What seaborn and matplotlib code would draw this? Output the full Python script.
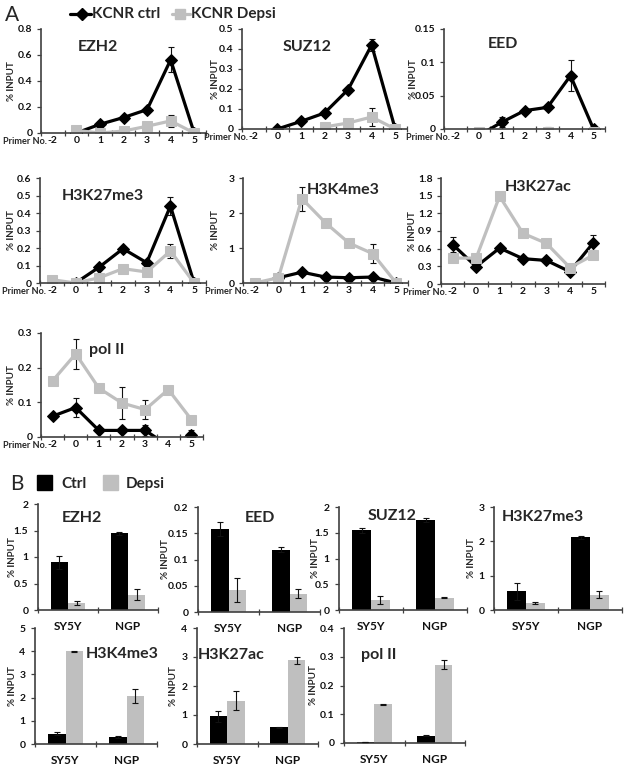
import numpy as np
import pandas as pd
import matplotlib
matplotlib.use('Agg')
import matplotlib.pyplot as plt
from matplotlib.lines import Line2D
from matplotlib.patches import Rectangle
import seaborn as sns

# ---------------- data: panel A (ChIP across primers) ----------------
primers = ['-2', '0', '1', '2', '3', '4', '5']

ezh2_ctrl = [None, 0.0, 0.067, 0.119, 0.18, 0.563, 0.0]
ezh2_ctrl_err = [None, 0.004, 0.01, 0.01, 0.01, 0.097, 0.0]
ezh2_depsi = [None, 0.02, 0.0, 0.015, 0.052, 0.093, 0.0]
ezh2_depsi_err = [None, 0.004, 0.004, 0.005, 0.008, 0.044, 0.0]

suz12_ctrl = [None, 0.0, 0.038, 0.08, 0.197, 0.42, 0.0]
suz12_ctrl_err = [None, 0.0, 0.01, 0.008, 0.01, 0.03, 0.0]
suz12_depsi = [None, None, None, 0.01, 0.03, 0.06, 0.0]
suz12_depsi_err = [None, None, None, 0.004, 0.006, 0.045, 0.0]

eed_ctrl = [None, -0.01, 0.01, 0.0275, 0.0325, 0.08, 0.0]
eed_ctrl_err = [None, 0.0, 0.0075, 0.003, 0.003, 0.023, 0.0]
eed_depsi = [None, -0.004, -0.01, -0.01, -0.004, -0.01, -0.004]
eed_depsi_err = [None, 0.006, 0.0, 0.0, 0.0065, 0.0, 0.006]

h3k27me3_ctrl = [None, 0.0, 0.091, 0.196, 0.116, 0.44, 0.0]
h3k27me3_ctrl_err = [None, 0.0, 0.01, 0.012, 0.01, 0.05, 0.0]
h3k27me3_depsi = [0.019, 0.0, 0.03, 0.082, 0.063, 0.183, 0.0]
h3k27me3_depsi_err = [0.005, 0.0, 0.006, 0.008, 0.008, 0.04, 0.0]

h3k4me3_ctrl = [None, 0.15, 0.31, 0.17, 0.15, 0.17, 0.0]
h3k4me3_ctrl_err = [None, 0.02, 0.06, 0.03, 0.03, 0.03, 0.0]
h3k4me3_depsi = [0.0, 0.15, 2.41, 1.72, 1.14, 0.84, 0.0]
h3k4me3_depsi_err = [0.0, 0.02, 0.34, 0.05, 0.05, 0.27, 0.0]

h3k27ac_ctrl = [0.67, 0.295, 0.61, 0.43, 0.40, 0.21, 0.70]
h3k27ac_ctrl_err = [0.12, 0.03, 0.04, 0.03, 0.03, 0.03, 0.13]
h3k27ac_depsi = [0.44, 0.44, 1.49, 0.86, 0.69, 0.28, 0.49]
h3k27ac_depsi_err = [0.03, 0.03, 0.06, 0.03, 0.03, 0.03, 0.05]

pol2_ctrl = [0.06, 0.085, 0.019, 0.019, 0.019, -0.025, 0.005]
pol2_ctrl_err = [0.004, 0.028, 0.004, 0.004, 0.015, 0.0, 0.016]
pol2_depsi = [0.162, 0.24, 0.141, 0.098, 0.079, 0.137, 0.05]
pol2_depsi_err = [0.004, 0.043, 0.004, 0.046, 0.027, 0.004, 0.004]

# ---------------- data: panel B (bar charts) ----------------
cells = ['SY5Y', 'NGP']
conditions = ['Ctrl', 'Depsi']

b_ezh2_ctrl = [0.90, 1.45]
b_ezh2_ctrl_err = [0.12, 0.03]
b_ezh2_depsi = [0.13, 0.29]
b_ezh2_depsi_err = [0.04, 0.10]

b_eed_ctrl = [0.158, 0.119]
b_eed_ctrl_err = [0.014, 0.004]
b_eed_depsi = [0.042, 0.035]
b_eed_depsi_err = [0.023, 0.009]

b_suz12_ctrl = [1.55, 1.75]
b_suz12_ctrl_err = [0.05, 0.04]
b_suz12_depsi = [0.20, 0.24]
b_suz12_depsi_err = [0.08, 0.01]

b_h3k27me3_ctrl = [0.55, 2.12]
b_h3k27me3_ctrl_err = [0.25, 0.04]
b_h3k27me3_depsi = [0.20, 0.45]
b_h3k27me3_depsi_err = [0.02, 0.10]

b_h3k4me3_ctrl = [0.45, 0.32]
b_h3k4me3_ctrl_err = [0.05, 0.04]
b_h3k4me3_depsi = [4.0, 2.05]
b_h3k4me3_depsi_err = [0.02, 0.30]

b_h3k27ac_ctrl = [0.95, 0.57]
b_h3k27ac_ctrl_err = [0.18, 0.02]
b_h3k27ac_depsi = [1.50, 2.88]
b_h3k27ac_depsi_err = [0.32, 0.12]

b_pol2_ctrl = [0.003, 0.025]
b_pol2_ctrl_err = [0.001, 0.002]
b_pol2_depsi = [0.135, 0.272]
b_pol2_depsi_err = [0.002, 0.015]

# ---------------- style ----------------
sns.set_theme(style='ticks')
plt.rcParams['font.family'] = ['Lato', 'DejaVu Sans']

W, H = 629, 770
BLACK = '#000000'
GRAY = '#BFBFBF'
AXC = '#404040'
TITLE_FS = 11.5

fig = plt.figure(figsize=(W / 100, H / 100), dpi=100)
fig.patch.set_facecolor('white')


def add_ax(l, t, r, b):
    return fig.add_axes([l / W, 1 - b / H, (r - l) / W, (b - t) / H])


def ftext(x, y, s, **kw):
    kw.setdefault('ha', 'center')
    kw.setdefault('va', 'center')
    return fig.text(x / W, 1 - y / H, s, **kw)


def style_axes(ax):
    for side in ['top', 'right']:
        ax.spines[side].set_visible(False)
    for side in ['left', 'bottom']:
        ax.spines[side].set_color(AXC)
        ax.spines[side].set_linewidth(1.2)
    ax.set_facecolor('none')
    ax.set_xlabel('')
    ax.set_ylabel('')


def fmt(v):
    return f'{round(v, 4):g}'


def line_panel(box, ctrl, ctrl_err, depsi, depsi_err, yticks, title, title_xy, ylab_x):
    l, t, r, b = box
    ax = add_ax(l, t, r, b)
    pos = np.arange(len(primers))
    for vals, col, mk, ms in [(ctrl, BLACK, 'D', 6.5), (depsi, GRAY, 's', 7.5)]:
        keep = [i for i, v in enumerate(vals) if v is not None]
        sns.lineplot(x=pos[keep], y=np.array([vals[i] for i in keep], float), ax=ax,
                     color=col, marker=mk, markersize=ms, markeredgecolor=col,
                     linewidth=2.3, estimator=None, sort=False, legend=False)
    for vals, errs in [(ctrl, ctrl_err), (depsi, depsi_err)]:
        keep = [i for i, v in enumerate(vals) if v is not None and errs[i]]
        if keep:
            ax.errorbar(pos[keep], [vals[i] for i in keep], yerr=[errs[i] for i in keep],
                        fmt='none', ecolor='#111111', elinewidth=0.8, capsize=2.3,
                        capthick=0.8, zorder=1.5)
    ax.set_xlim(-0.5, len(primers) - 0.5)
    ax.set_ylim(yticks[0], yticks[-1])
    ax.set_yticks(yticks)
    ax.set_yticklabels([fmt(v) for v in yticks])
    ax.set_xticks(pos)
    ax.set_xticklabels(primers)
    ax.set_xticks(np.arange(-0.5, len(primers), 1), minor=True)
    style_axes(ax)
    ax.tick_params(axis='x', which='major', length=0, pad=2.5, labelsize=7.5, colors='#111111')
    ax.tick_params(axis='x', which='minor', length=4, width=0.9, direction='inout', color=AXC)
    ax.tick_params(axis='y', which='major', length=3, width=0.9, direction='out', pad=3,
                   labelsize=7.5, color=AXC, labelcolor='#111111')
    for lab in ax.get_xticklabels() + ax.get_yticklabels():
        lab.set_fontweight('bold')
    ftext(title_xy[0], title_xy[1], title, fontsize=TITLE_FS, fontweight='bold')
    ftext(ylab_x, (t + b) / 2, '% INPUT', rotation=90, fontsize=7, fontweight='bold')
    ftext(l + 6, b + 9, 'Primer No.', ha='right', fontsize=6.6, fontweight='bold')
    return ax


def bar_panel(box, ctrl, ctrl_err, depsi, depsi_err, yticks, title, title_xy, ylab_x):
    l, t, r, b = box
    ax = add_ax(l, t, r, b)
    df = pd.DataFrame({
        'cell': cells + cells,
        'cond': [conditions[0]] * len(cells) + [conditions[1]] * len(cells),
        'val': list(ctrl) + list(depsi),
    })
    sns.barplot(data=df, x='cell', y='val', hue='cond', hue_order=conditions,
                palette=[BLACK, GRAY], width=0.58, errorbar=None, saturation=1,
                legend=False, ax=ax, linewidth=0)
    for cont, errs in zip(ax.containers, [ctrl_err, depsi_err]):
        xs = [p.get_x() + p.get_width() / 2 for p in cont]
        hs = [p.get_height() for p in cont]
        ax.errorbar(xs, hs, yerr=errs, fmt='none', ecolor='#111111', elinewidth=0.8,
                    capsize=2.3, capthick=0.8, zorder=5)
    ax.set_xlim(-0.5, len(cells) - 0.5)
    ax.set_ylim(yticks[0], yticks[-1])
    ax.set_yticks(yticks)
    ax.set_yticklabels([fmt(v) for v in yticks])
    ax.set_xticks(np.arange(-0.5, len(cells), 1), minor=True)
    style_axes(ax)
    ax.tick_params(axis='x', which='major', length=0, pad=8, labelsize=8.5, colors='#111111')
    ax.tick_params(axis='x', which='minor', length=4, width=0.9, direction='inout', color=AXC)
    ax.tick_params(axis='y', which='major', length=3, width=0.9, direction='out', pad=4,
                   labelsize=7.5, color=AXC, labelcolor='#111111')
    for lab in ax.get_xticklabels() + ax.get_yticklabels():
        lab.set_fontweight('bold')
    ftext(title_xy[0], title_xy[1], title, fontsize=TITLE_FS, fontweight='bold')
    ftext(ylab_x, (t + b) / 2, '% INPUT', rotation=90, fontsize=7, fontweight='bold')
    return ax


# ---------------- panel A ----------------
line_panel((41, 29, 206, 133), ezh2_ctrl, ezh2_ctrl_err, ezh2_depsi, ezh2_depsi_err,
           [0, 0.2, 0.4, 0.6, 0.8], 'EZH2', (98, 47), 11)
line_panel((242, 29, 407, 129), suz12_ctrl, suz12_ctrl_err, suz12_depsi, suz12_depsi_err,
           [0, 0.1, 0.2, 0.3, 0.4, 0.5], 'SUZ12', (307, 47), 215)
line_panel((444, 29, 605, 129), eed_ctrl, eed_ctrl_err, eed_depsi, eed_depsi_err,
           [0, 0.05, 0.1, 0.15], 'EED', (503, 44), 413)
line_panel((40, 178, 206, 283), h3k27me3_ctrl, h3k27me3_ctrl_err, h3k27me3_depsi,
           h3k27me3_depsi_err, [0, 0.1, 0.2, 0.3, 0.4, 0.5, 0.6], 'H3K27me3', (103, 196), 11)
line_panel((243, 178, 408, 283), h3k4me3_ctrl, h3k4me3_ctrl_err, h3k4me3_depsi,
           h3k4me3_depsi_err, [0, 1, 2, 3], 'H3K4me3', (343, 190), 215)
line_panel((441, 178, 605, 284), h3k27ac_ctrl, h3k27ac_ctrl_err, h3k27ac_depsi,
           h3k27ac_depsi_err, [0, 0.3, 0.6, 0.9, 1.2, 1.5, 1.8], 'H3K27ac', (538, 187), 412)
line_panel((41, 333, 203, 437), pol2_ctrl, pol2_ctrl_err, pol2_depsi, pol2_depsi_err,
           [0, 0.1, 0.2, 0.3], 'pol II', (107, 350), 11)

# legend A
ftext(12, 15, 'A', fontsize=15)
fig.add_artist(Line2D([70 / W, 91 / W], [1 - 14 / H, 1 - 14 / H], color=BLACK, lw=2.3,
                      transform=fig.transFigure))
fig.add_artist(Line2D([82 / W], [1 - 14 / H], color=BLACK, marker='D', markersize=6.5,
                      transform=fig.transFigure))
ftext(92, 14, 'KCNR ctrl', ha='left', fontsize=11, fontweight='bold')
fig.add_artist(Line2D([172 / W, 190 / W], [1 - 14 / H, 1 - 14 / H], color=GRAY, lw=2.3,
                      transform=fig.transFigure))
fig.add_artist(Line2D([180 / W], [1 - 14 / H], color=GRAY, marker='s', markersize=7.5,
                      transform=fig.transFigure))
ftext(191, 14, 'KCNR Depsi', ha='left', fontsize=11, fontweight='bold')

# ---------------- panel B ----------------
bar_panel((38, 504, 158, 610), b_ezh2_ctrl, b_ezh2_ctrl_err, b_ezh2_depsi, b_ezh2_depsi_err,
          [0, 0.5, 1, 1.5, 2], 'EZH2', (82, 518), 13)
bar_panel((198, 507, 320, 612), b_eed_ctrl, b_eed_ctrl_err, b_eed_depsi, b_eed_depsi_err,
          [0, 0.05, 0.1, 0.15, 0.2], 'EED', (260, 518), 166)
bar_panel((339, 507, 467, 610), b_suz12_ctrl, b_suz12_ctrl_err, b_suz12_depsi,
          b_suz12_depsi_err, [0, 0.5, 1, 1.5, 2], 'SUZ12', (392, 516), 316)
bar_panel((494, 507, 622, 610), b_h3k27me3_ctrl, b_h3k27me3_ctrl_err, b_h3k27me3_depsi,
          b_h3k27me3_depsi_err, [0, 1, 2, 3], 'H3K27me3', (543, 517), 472)
bar_panel((35, 628, 157, 744), b_h3k4me3_ctrl, b_h3k4me3_ctrl_err, b_h3k4me3_depsi,
          b_h3k4me3_depsi_err, [0, 1, 2, 3, 4, 5], 'H3K4me3', (122, 654), 13)
bar_panel((197, 628, 318, 744), b_h3k27ac_ctrl, b_h3k27ac_ctrl_err, b_h3k27ac_depsi,
          b_h3k27ac_depsi_err, [0, 1, 2, 3, 4], 'H3K27ac', (231, 655), 173)
bar_panel((344, 628, 465, 743), b_pol2_ctrl, b_pol2_ctrl_err, b_pol2_depsi, b_pol2_depsi_err,
          [0, 0.1, 0.2, 0.3, 0.4], 'pol II', (379, 655), 313)

# legend B
ftext(17, 484, 'B', fontsize=15)
fig.add_artist(Rectangle((37 / W, 1 - 490 / H), 15 / W, 15 / H, color=BLACK,
                         transform=fig.transFigure))
ftext(61, 484, 'Ctrl', ha='left', fontsize=11, fontweight='bold')
fig.add_artist(Rectangle((103 / W, 1 - 490 / H), 15 / W, 15 / H, color=GRAY,
                         transform=fig.transFigure))
ftext(126, 484, 'Depsi', ha='left', fontsize=11, fontweight='bold')

fig.savefig('out.png', dpi=100, facecolor='white')
